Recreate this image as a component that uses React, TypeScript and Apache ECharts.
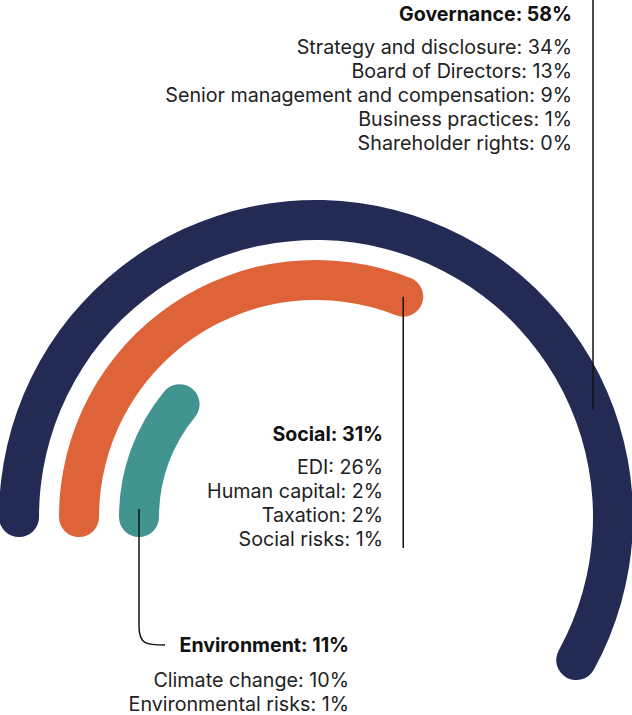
import React, { useEffect, useRef } from "react";
import * as echarts from "echarts";

const categories = ["Environment", "Social", "Governance"];
const values = [11, 31, 58];
const colors = ["#429491", "#de6338", "#232b55"];

const governanceNames = [
  "Strategy and disclosure",
  "Board of Directors",
  "Senior management and compensation",
  "Business practices",
  "Shareholder rights",
];
const governanceValues = [34, 13, 9, 1, 0];

const socialNames = ["EDI", "Human capital", "Taxation", "Social risks"];
const socialValues = [26, 2, 2, 1];

const environmentNames = ["Climate change", "Environmental risks"];
const environmentValues = [10, 1];

const CX = 316;
const CY = 517;
const R_IN = 147;
const R_OUT = 327;
const BAND = (R_OUT - R_IN) / 3;
const FONT = "Inter, 'Noto Sans', sans-serif";
const FS = 19.7;
const FS_B = 19.6;
const LH = 24;

export default function App() {
  const ref = useRef<HTMLDivElement>(null);

  useEffect(() => {
    if (!ref.current) return;
    const chart = echarts.init(ref.current, null, { renderer: "svg" });

    const ringR = (i: number) => R_IN + BAND * (i + 0.5);
    const endAngle = (v: number) => Math.PI - (v / 100) * 2 * Math.PI; // math angle

    const textEls: any[] = [];
    const addBlock = (
      title: string,
      names: string[],
      vals: number[],
      right: number,
      titleY: number,
      firstY: number
    ) => {
      textEls.push({
        type: "text",
        x: right,
        y: titleY,
        style: {
          text: title,
          align: "right",
          verticalAlign: "middle",
          font: `bold ${FS_B}px ${FONT}`,
          fill: "#111111",
        },
      });
      names.forEach((n, i) => {
        textEls.push({
          type: "text",
          x: right,
          y: firstY + i * LH,
          style: {
            text: `${n}: ${vals[i]}%`,
            align: "right",
            verticalAlign: "middle",
            font: `${FS}px ${FONT}`,
            fill: "#222222",
          },
        });
      });
    };

    addBlock(`${categories[2]}: ${values[2]}%`, governanceNames, governanceValues, 572, 14, 47);
    addBlock(`${categories[1]}: ${values[1]}%`, socialNames, socialValues, 383, 434, 467);
    addBlock(`${categories[0]}: ${values[0]}%`, environmentNames, environmentValues, 349, 645, 680);

    // leader lines
    const socialX = CX + ringR(1) * Math.cos(endAngle(values[1]));
    const socialY = CY - ringR(1) * Math.sin(endAngle(values[1]));
    const envX = CX - ringR(0);
    const govX = 593;
    const govY = CY - Math.sqrt(ringR(2) ** 2 - (govX - CX) ** 2);

    const lineStyle = { stroke: "#111111", lineWidth: 1.5, fill: "none" };

    const lines: any[] = [
      { type: "line", shape: { x1: govX, y1: 0, x2: govX, y2: govY }, style: lineStyle, z: 10 },
      { type: "line", shape: { x1: socialX, y1: socialY, x2: socialX, y2: 548 }, style: lineStyle, z: 10 },
      {
        type: "polyline",
        shape: { points: [[envX, CY - 8], [envX, 626]] },
        style: lineStyle,
        z: 10,
      },
      {
        type: "bezierCurve",
        shape: { x1: envX, y1: 626, cpx1: envX, cpy1: 645, cpx2: envX + 8, cpy2: 645, x2: envX + 26, y2: 645 },
        style: lineStyle,
        z: 10,
      },
    ];

    chart.setOption({
      animation: false,
      polar: { center: [CX, CY], radius: [R_IN, R_OUT] },
      angleAxis: {
        type: "value",
        min: 0,
        max: 100,
        startAngle: 180,
        clockwise: true,
        show: false,
      },
      radiusAxis: { type: "category", data: categories, show: false },
      series: [
        {
          type: "bar",
          coordinateSystem: "polar",
          roundCap: true,
          barWidth: 40,
          data: values.map((v, i) => ({ value: v, itemStyle: { color: colors[i] } })),
          z: 2,
        },
      ],
      graphic: [...lines, ...textEls],
    });

    return () => chart.dispose();
  }, []);

  return (
    <div
      ref={ref}
      style={{ position: "fixed", left: 0, top: 0, width: 632, height: 715, background: "#fff" }}
    />
  );
}
